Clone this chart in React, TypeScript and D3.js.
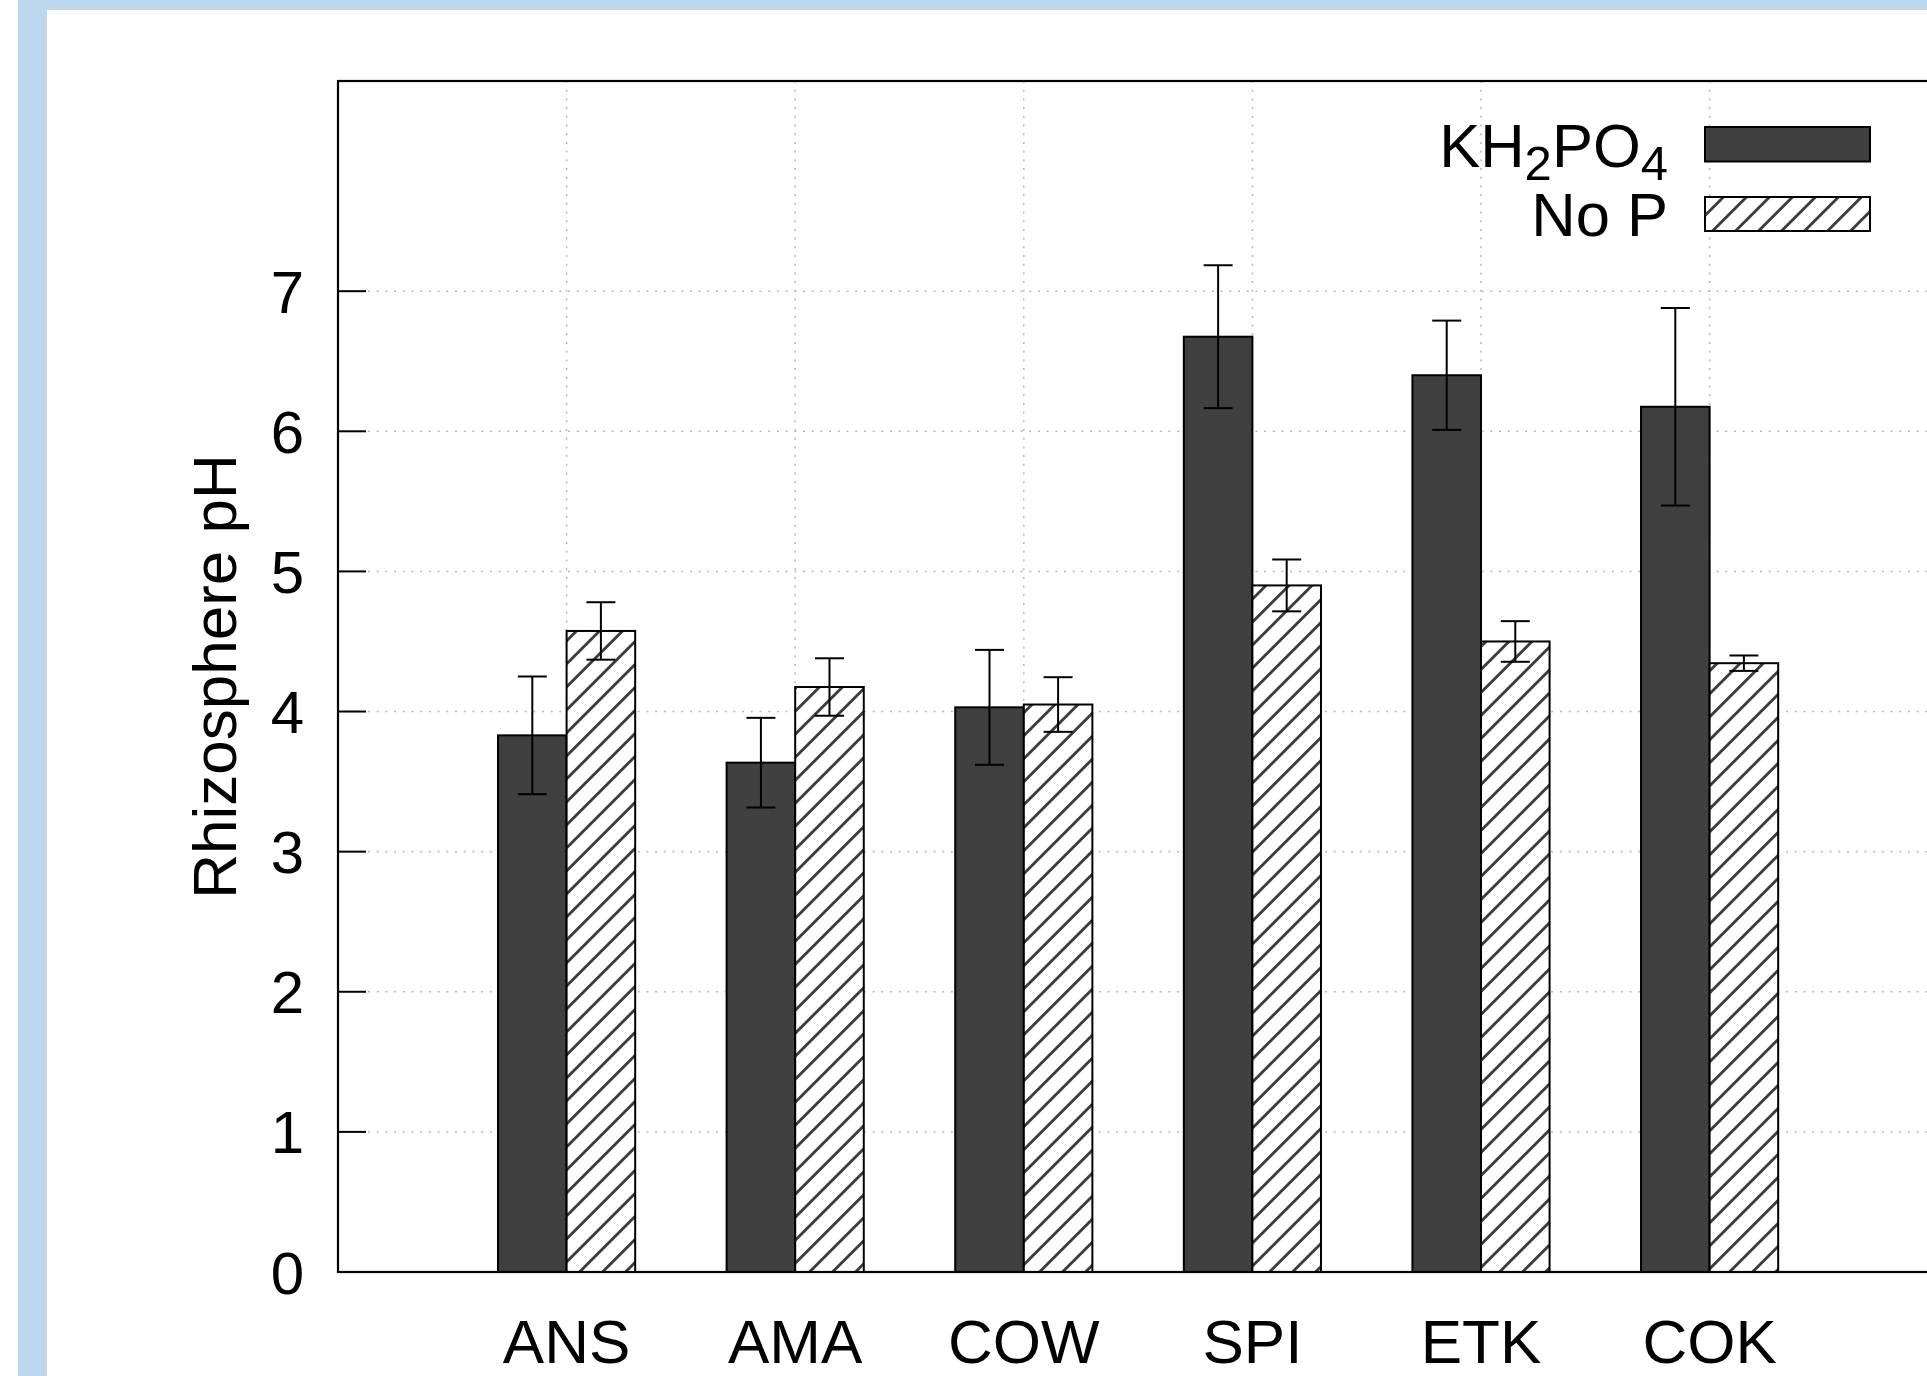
import React from "react";
import * as d3 from "d3";

const categories = ["ANS", "AMA", "COW", "SPI", "ETK", "COK"];
const kh2po4Values = [3.83, 3.635, 4.03, 6.675, 6.4, 6.175];
const kh2po4Errors = [0.42, 0.32, 0.41, 0.51, 0.39, 0.705];
const noPValues = [4.575, 4.175, 4.05, 4.9, 4.5, 4.345];
const noPErrors = [0.205, 0.205, 0.195, 0.185, 0.145, 0.055];
const yTicks = [0, 1, 2, 3, 4, 5, 6, 7];

const W = 1927;
const H = 1376;
const FONT = "'Liberation Sans', Arial, Helvetica, sans-serif";

export default function App() {
  const left = 338;
  const top = 81;
  const bottom = 1272;
  const unitX = 228.6;
  const x = d3.scaleLinear().domain([0, 7]).range([left, left + 7 * unitX]);
  const y = d3.scaleLinear().domain([0, 8.5]).range([bottom, top]);
  const barW = 0.3;
  const capHalf = 14.5;
  const gridColor = "#b8b8b8";
  const hatchPeriod = 23 / Math.SQRT2;

  const series = [
    { values: kh2po4Values, errors: kh2po4Errors, offset: -barW, fill: "#404040" },
    { values: noPValues, errors: noPErrors, offset: 0, fill: "url(#hatch)" },
  ];

  return (
    <svg
      width={W}
      height={H}
      style={{ position: "absolute", left: 0, top: 0, display: "block" }}
      fontFamily={FONT}
    >
      <defs>
        <pattern
          id="hatch"
          patternUnits="userSpaceOnUse"
          width={hatchPeriod}
          height={hatchPeriod}
          patternTransform="rotate(45)"
        >
          <rect width={hatchPeriod} height={hatchPeriod} fill="#fff" />
          <line
            x1={hatchPeriod / 2}
            y1={-1}
            x2={hatchPeriod / 2}
            y2={hatchPeriod + 1}
            stroke="#383838"
            strokeWidth={2.8}
          />
        </pattern>
      </defs>
      <rect x={0} y={0} width={W} height={H} fill="#fff" />
      <rect x={18} y={0} width={W - 18} height={H} fill="#bdd7ee" />
      <rect x={47} y={10} width={W - 47} height={H - 10} fill="#fff" />

      {/* grid */}
      {yTicks.filter((t) => t > 0).map((t) => (
        <line
          key={"gy" + t}
          x1={left + 30}
          x2={W}
          y1={y(t)}
          y2={y(t)}
          stroke={gridColor}
          strokeWidth={1.5}
          strokeDasharray="2,6.7"
        />
      ))}
      {categories.map((c, i) => (
        <line
          key={"gx" + c}
          x1={x(i + 1)}
          x2={x(i + 1)}
          y1={top}
          y2={bottom}
          stroke={gridColor}
          strokeWidth={1.5}
          strokeDasharray="2,6.7"
        />
      ))}

      {/* bars */}
      {series.map((s, si) =>
        s.values.map((v, i) => (
          <rect
            key={"b" + si + "-" + i}
            x={x(i + 1 + s.offset)}
            y={y(v)}
            width={x(barW) - x(0)}
            height={y(0) - y(v)}
            fill={s.fill}
            stroke="#000"
            strokeWidth={2}
          />
        ))
      )}

      {/* error bars */}
      {series.map((s, si) =>
        s.values.map((v, i) => {
          const cx = x(i + 1 + s.offset + barW / 2);
          const y1 = y(v + s.errors[i]);
          const y2 = y(v - s.errors[i]);
          return (
            <g key={"e" + si + "-" + i} stroke="#000" strokeWidth={2}>
              <line x1={cx} x2={cx} y1={y1} y2={y2} />
              <line x1={cx - capHalf} x2={cx + capHalf} y1={y1} y2={y1} />
              <line x1={cx - capHalf} x2={cx + capHalf} y1={y2} y2={y2} />
            </g>
          );
        })
      )}

      {/* frame */}
      <rect
        x={left}
        y={top}
        width={x(7) - left}
        height={bottom - top}
        fill="none"
        stroke="#000"
        strokeWidth={2.2}
      />

      {/* y ticks */}
      {yTicks.map((t) => (
        <g key={"yt" + t}>
          <line x1={left} x2={left + 28} y1={y(t)} y2={y(t)} stroke="#000" strokeWidth={2} />
          <text x={304} y={y(t) + 21.5} textAnchor="end" fontSize={60} fill="#000">
            {t}
          </text>
        </g>
      ))}

      {/* x labels */}
      {categories.map((c, i) => (
        <text key={"xl" + c} x={x(i + 1)} y={1363} textAnchor="middle" fontSize={62} fill="#000">
          {c}
        </text>
      ))}

      {/* y label */}
      <text
        transform={`translate(236, ${(top + bottom) / 2}) rotate(-90)`}
        textAnchor="middle"
        fontSize={62}
        fill="#000"
      >
        Rhizosphere pH
      </text>

      {/* legend */}
      <text x={1668} y={167} textAnchor="end" fontSize={61.5} fill="#000">
        KH<tspan fontSize={49} dy={13}>2</tspan><tspan dy={-13}>PO</tspan><tspan fontSize={49} dy={13}>4</tspan>
      </text>
      <rect x={1705} y={127} width={165} height={34.5} fill="#404040" stroke="#000" strokeWidth={2} />
      <text x={1668} y={236} textAnchor="end" fontSize={61.5} fill="#000">
        No P
      </text>
      <rect x={1705} y={197} width={165} height={34} fill="url(#hatch)" stroke="#000" strokeWidth={2} />
    </svg>
  );
}
